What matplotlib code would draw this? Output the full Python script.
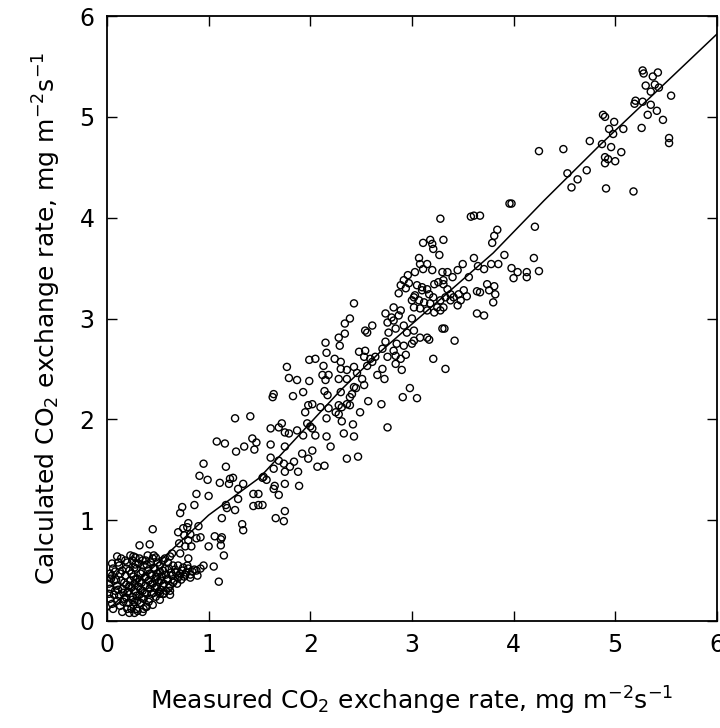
import numpy as np
import matplotlib
matplotlib.use("Agg")
import matplotlib.pyplot as plt

# measured vs calculated CO2 exchange rate
pts_high = [
    (5.27, 5.46), (5.28, 5.43), (5.37, 5.40), (5.42, 5.44), (5.30, 5.31), (5.39, 5.32),
    (5.43, 5.29), (5.35, 5.25), (5.55, 5.21), (5.20, 5.16), (5.19, 5.13), (5.27, 5.15),
    (5.35, 5.12), (5.41, 5.06), (5.32, 5.02), (5.47, 4.97), (4.88, 5.02), (4.90, 5.00),
    (4.99, 4.95), (4.94, 4.88), (4.98, 4.83), (5.08, 4.88), (5.26, 4.89), (5.53, 4.79),
    (5.53, 4.74), (4.75, 4.76), (4.87, 4.73), (4.96, 4.70), (5.06, 4.65), (4.90, 4.60),
    (4.93, 4.58), (4.90, 4.54), (5.00, 4.56), (4.25, 4.66), (4.49, 4.68), (4.53, 4.44),
    (4.63, 4.38), (4.72, 4.47), (4.57, 4.30), (4.91, 4.29), (5.18, 4.26), (3.67, 4.02),
    (3.96, 4.14), (3.98, 4.14), (3.84, 3.88), (3.81, 3.82), (3.79, 3.75), (4.21, 3.91),
    (3.91, 3.63), (4.20, 3.60),
]

pts_mid = [
    (3.28, 3.99), (3.58, 4.01), (3.61, 4.02), (3.18, 3.78), (3.20, 3.74), (3.21, 3.69),
    (3.11, 3.75), (3.31, 3.78), (3.27, 3.63), (3.07, 3.60), (3.61, 3.60), (3.85, 3.54),
    (3.98, 3.50), (4.04, 3.46), (4.13, 3.46), (4.13, 3.41), (4.25, 3.47), (4.00, 3.40),
    (3.78, 3.54), (3.71, 3.49), (3.65, 3.52), (3.50, 3.54), (3.56, 3.41), (3.45, 3.48),
    (3.40, 3.41), (3.35, 3.46), (3.30, 3.46), (3.31, 3.38), (3.08, 3.54), (3.11, 3.49),
    (3.03, 3.46), (3.15, 3.54), (3.20, 3.48), (2.96, 3.43), (2.92, 3.38), (2.89, 3.33),
    (2.97, 3.35), (2.87, 3.25), (2.94, 3.30),
    (3.05, 3.33), (3.10, 3.31), (3.15, 3.29), (3.22, 3.34), (3.26, 3.36), (3.31, 3.34),
    (3.35, 3.29), (3.38, 3.24), (3.33, 3.21), (3.28, 3.18), (3.21, 3.21), (3.17, 3.24),
    (3.10, 3.28), (3.02, 3.21), (3.07, 3.18), (3.12, 3.16), (3.18, 3.15), (3.25, 3.11),
    (3.31, 3.11), (3.38, 3.18), (3.41, 3.21), (3.46, 3.24), (3.51, 3.28), (3.48, 3.18),
    (3.45, 3.13), (3.02, 3.11), (3.08, 3.10), (3.15, 3.08), (3.22, 3.06), (3.28, 3.08),
    (3.00, 3.18), (3.03, 3.23),
    (3.64, 3.27), (3.67, 3.26), (3.74, 3.34), (3.81, 3.32), (3.76, 3.28), (3.82, 3.24),
    (3.80, 3.16), (3.54, 3.22), (3.64, 3.05), (3.71, 3.03), (2.82, 3.11), (2.89, 3.08),
    (2.74, 3.05), (2.80, 3.01), (2.87, 3.03), (2.76, 2.96), (2.82, 2.98), (2.84, 2.90),
    (2.77, 2.86), (2.92, 2.93), (3.00, 3.00), (2.95, 2.86), (3.02, 2.88), (3.30, 2.90),
    (3.32, 2.90), (3.15, 2.81), (3.17, 2.79), (3.42, 2.78), (3.08, 2.81), (3.02, 2.78),
    (3.00, 2.75), (2.74, 2.77), (2.85, 2.75), (2.92, 2.73), (2.82, 2.68), (2.84, 2.63),
    (2.94, 2.64), (2.89, 2.60), (2.71, 2.70), (2.76, 2.62), (3.21, 2.60), (3.33, 2.50),
    (2.84, 2.55), (2.90, 2.49), (2.71, 2.50),
]

pts_low = [
    (2.43, 3.15), (2.39, 3.00), (2.34, 2.95), (2.54, 2.88), (2.56, 2.86), (2.61, 2.93),
    (2.28, 2.81), (2.34, 2.85), (2.29, 2.73), (2.15, 2.76), (2.16, 2.66), (2.24, 2.60),
    (2.30, 2.57), (2.48, 2.67), (2.54, 2.68), (2.53, 2.62), (2.59, 2.60), (2.64, 2.62),
    (1.99, 2.59), (2.05, 2.60), (2.13, 2.53), (1.77, 2.52), (2.30, 2.50), (2.36, 2.49),
    (2.43, 2.52), (2.46, 2.46), (2.56, 2.53), (2.61, 2.57), (1.79, 2.41), (1.87, 2.39),
    (1.99, 2.38), (2.12, 2.44), (2.18, 2.44), (2.15, 2.39), (2.28, 2.40), (2.36, 2.40),
    (2.51, 2.40), (2.53, 2.34), (2.43, 2.32), (2.45, 2.31), (2.66, 2.44), (2.73, 2.40),
    (1.64, 2.25), (1.63, 2.22), (1.83, 2.23), (1.93, 2.27), (2.14, 2.28), (2.17, 2.24),
    (2.30, 2.27), (2.39, 2.22), (2.41, 2.25), (2.57, 2.18), (2.70, 2.15), (2.98, 2.31),
    (3.05, 2.21), (2.91, 2.22), (2.02, 2.15), (1.98, 2.14), (2.10, 2.12), (2.18, 2.11),
    (2.28, 2.14), (2.31, 2.12), (2.36, 2.15), (2.39, 2.14), (1.95, 2.07), (2.25, 2.07),
    (2.28, 2.05), (2.16, 2.01), (2.49, 2.07), (1.97, 1.96), (2.00, 1.93), (2.31, 1.98),
    (2.42, 1.95), (1.72, 1.96), (1.69, 1.92), (1.75, 1.87), (1.79, 1.86), (1.61, 1.91),
    (1.87, 1.89), (1.93, 1.84), (2.02, 1.91), (2.05, 1.84), (2.16, 1.83), (2.33, 1.86),
    (2.43, 1.83), (2.76, 1.92), (1.43, 1.81), (1.47, 1.77), (1.45, 1.70), (1.61, 1.75),
    (1.75, 1.73), (2.20, 1.73), (1.92, 1.66), (2.02, 1.69), (1.98, 1.61), (2.36, 1.61),
    (2.47, 1.63), (1.61, 1.62), (1.69, 1.59), (1.74, 1.56), (1.64, 1.51), (1.84, 1.58),
    (1.80, 1.53), (1.88, 1.48), (1.75, 1.48), (2.07, 1.53), (2.14, 1.54), (1.54, 1.43),
    (1.26, 2.01), (1.41, 2.03), (1.08, 1.78), (1.16, 1.76), (1.27, 1.68), (1.35, 1.73),
    (0.95, 1.56), (1.17, 1.53), (0.91, 1.44), (0.99, 1.40), (1.11, 1.37), (1.21, 1.41),
    (1.24, 1.42), (1.20, 1.36), (1.34, 1.36), (0.88, 1.26), (1.00, 1.24), (1.29, 1.31),
    (1.17, 1.15), (1.18, 1.12), (1.26, 1.10), (1.29, 1.21), (1.44, 1.26), (1.49, 1.26),
    (1.53, 1.42), (1.57, 1.40), (1.53, 1.15), (1.44, 1.14), (1.49, 1.15), (1.65, 1.34),
    (1.64, 1.31), (1.69, 1.25), (1.75, 1.36), (1.89, 1.34), (1.75, 1.09), (1.66, 1.02),
    (1.74, 0.99), (1.13, 1.02), (1.33, 0.96), (1.34, 0.90), (1.06, 0.84), (1.13, 0.83),
    (1.12, 0.81), (0.90, 0.94), (0.80, 0.97), (0.79, 0.93), (0.74, 1.13), (0.72, 1.07),
    (0.75, 0.92), (0.82, 0.86), (0.88, 0.82), (0.92, 0.83), (0.71, 0.77), (0.77, 0.74),
    (0.83, 0.74), (1.00, 0.74), (1.12, 0.75), (0.45, 0.91), (0.32, 0.75), (0.42, 0.76),
    (0.80, 0.80), (0.70, 0.88), (0.86, 1.15), (0.76, 0.85),
]

pts_cluster = [
    (1.15, 0.65), (0.72, 0.67), (0.80, 0.62), (0.64, 0.67), (0.46, 0.65), (0.23, 0.65),
    (0.26, 0.64), (0.10, 0.64), (0.14, 0.62), (0.18, 0.60), (0.05, 0.57), (0.06, 0.52),
    (0.08, 0.49), (0.03, 0.47), (0.04, 0.42), (0.02, 0.37), (0.03, 0.32), (0.02, 0.27),
    (0.03, 0.22), (0.05, 0.17), (0.06, 0.12), (1.05, 0.54), (0.92, 0.52), (0.88, 0.50),
    (0.79, 0.55), (0.82, 0.46), (1.10, 0.39), (0.62, 0.30), (0.55, 0.27), (0.52, 0.27),
    (0.39, 0.14), (0.36, 0.12), (0.29, 0.12), (0.24, 0.12), (0.95, 0.55),
    (0.08, 0.30), (0.10, 0.35), (0.12, 0.25), (0.14, 0.40), (0.15, 0.32), (0.17, 0.22),
    (0.18, 0.45), (0.19, 0.36), (0.20, 0.28), (0.21, 0.18), (0.22, 0.50), (0.23, 0.40),
    (0.24, 0.33), (0.25, 0.24), (0.26, 0.44), (0.27, 0.37), (0.28, 0.29), (0.29, 0.52),
    (0.30, 0.20), (0.30, 0.42), (0.31, 0.34), (0.32, 0.26), (0.33, 0.47), (0.34, 0.38),
    (0.35, 0.30), (0.36, 0.55), (0.36, 0.22), (0.37, 0.43), (0.38, 0.35), (0.39, 0.27),
    (0.40, 0.50), (0.41, 0.40), (0.42, 0.32), (0.43, 0.58), (0.44, 0.45), (0.45, 0.37),
    (0.46, 0.28), (0.47, 0.52), (0.48, 0.42), (0.49, 0.34), (0.50, 0.47), (0.51, 0.39),
    (0.52, 0.55), (0.53, 0.31), (0.54, 0.44), (0.55, 0.50), (0.56, 0.37), (0.58, 0.46),
    (0.60, 0.41), (0.61, 0.52), (0.62, 0.35), (0.64, 0.45), (0.66, 0.40), (0.68, 0.48),
    (0.70, 0.43), (0.72, 0.47), (0.74, 0.50), (0.76, 0.44), (0.78, 0.48), (0.80, 0.52),
    (0.84, 0.49),
    (0.10, 0.20), (0.13, 0.15), (0.16, 0.28), (0.20, 0.12), (0.26, 0.16), (0.33, 0.18),
    (0.38, 0.14), (0.42, 0.22), (0.48, 0.24), (0.52, 0.21), (0.56, 0.27), (0.45, 0.16),
    (0.58, 0.30), (0.62, 0.26), (0.30, 0.10), (0.27, 0.08),
    (0.05, 0.45), (0.07, 0.40), (0.12, 0.55), (0.15, 0.50), (0.20, 0.58), (0.25, 0.60),
    (0.32, 0.62), (0.38, 0.60), (0.45, 0.62), (0.50, 0.58), (0.55, 0.60), (0.40, 0.65),
    (0.28, 0.56), (0.60, 0.58), (0.65, 0.55), (0.70, 0.55),
    (0.07, 0.26), (0.09, 0.41), (0.11, 0.31), (0.13, 0.47), (0.16, 0.19), (0.17, 0.38),
    (0.19, 0.52), (0.21, 0.29), (0.22, 0.35), (0.24, 0.47), (0.25, 0.21), (0.27, 0.53),
    (0.28, 0.41), (0.29, 0.25), (0.31, 0.57), (0.32, 0.39), (0.33, 0.31), (0.34, 0.23),
    (0.35, 0.49), (0.37, 0.28), (0.38, 0.44), (0.39, 0.56), (0.41, 0.19), (0.42, 0.47),
    (0.43, 0.36), (0.44, 0.27), (0.46, 0.53), (0.47, 0.33), (0.49, 0.44), (0.51, 0.29),
    (0.52, 0.49), (0.53, 0.40), (0.55, 0.35), (0.57, 0.52), (0.59, 0.42), (0.61, 0.33),
    (0.63, 0.48), (0.65, 0.38), (0.67, 0.51), (0.69, 0.37), (0.71, 0.45), (0.73, 0.41),
    (0.75, 0.53), (0.77, 0.46), (0.82, 0.43), (0.86, 0.51), (0.89, 0.45), (0.15, 0.09),
    (0.22, 0.08), (0.35, 0.09), (0.19, 0.23), (0.27, 0.19), (0.11, 0.58), (0.35, 0.60),
    (0.57, 0.62), (0.48, 0.63), (0.62, 0.64), (0.28, 0.63),
]

# fitted line
line_x = [0.0, 1.0, 1.5, 2.3, 2.7, 3.8, 4.3, 4.86, 6.0]
line_y = [0.10, 1.05, 1.42, 2.29, 2.68, 3.65, 4.17, 4.73, 5.82]

allpts = np.array(pts_high + pts_mid + pts_low + pts_cluster)
measured = allpts[:, 0]
calculated = allpts[:, 1]

fig = plt.figure(figsize=(7.2, 7.28), dpi=100)
ax = fig.add_axes([0.1486, 0.147, 0.847, 0.831])

ax.scatter(measured, calculated, s=26, facecolors="none", edgecolors="black",
           linewidths=1.0, zorder=2)
ax.plot(line_x, line_y, color="black", lw=1.1, zorder=3)

ax.set_xlim(0, 6)
ax.set_ylim(0, 6)
ax.set_xticks(range(7))
ax.set_yticks(range(7))
ax.tick_params(direction="in", length=7, width=1, top=True, right=True,
               labelsize=17, pad=9)
for s in ax.spines.values():
    s.set_linewidth(1.3)

ax.set_xlabel(r"Measured CO$_2$ exchange rate, mg m$^{-2}$s$^{-1}$", fontsize=18, labelpad=20)
ax.set_ylabel(r"Calculated CO$_2$ exchange rate, mg m$^{-2}$s$^{-1}$", fontsize=18, labelpad=12)

fig.savefig("out.png", dpi=100)
